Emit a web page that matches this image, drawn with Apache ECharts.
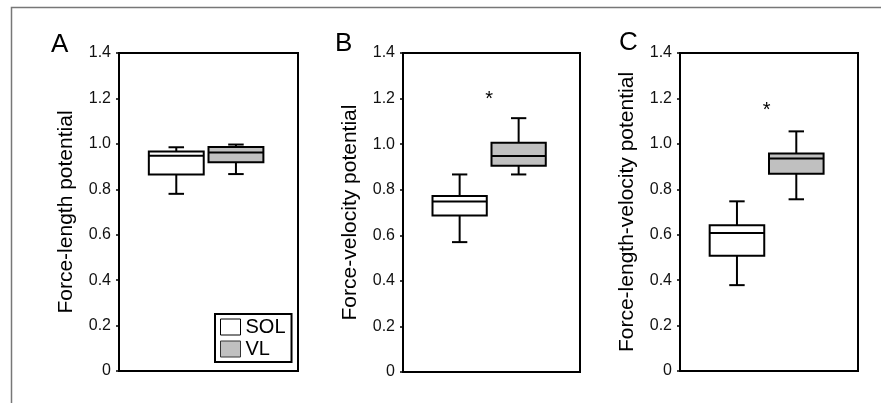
<!DOCTYPE html>
<html>
<head>
<meta charset="utf-8">
<script src="https://cdn.jsdelivr.net/npm/echarts@6/dist/echarts.min.js"></script>
<style>
html,body{margin:0;padding:0;background:#fff;}
#chart{width:881px;height:403px;}
</style>
</head>
<body>
<div id="chart"></div>
<script>
// ---- data ----
const panelLetters = ['A', 'B', 'C'];
const yAxisNames = ['Force-length potential', 'Force-velocity potential', 'Force-length-velocity potential'];
const groupNames = ['SOL', 'VL'];
const groupPositions = [1, 2];
// [min, Q1, median, Q3, max] per panel
const solStats = [
  [0.78, 0.865, 0.948, 0.966, 0.985],
  [0.57, 0.687, 0.748, 0.772, 0.867],
  [0.378, 0.507, 0.607, 0.642, 0.747]
];
const vlStats = [
  [0.867, 0.919, 0.962, 0.986, 0.997],
  [0.867, 0.905, 0.948, 1.006, 1.114],
  [0.756, 0.868, 0.935, 0.957, 1.055]
];
// significance marker height (null = none)
const starY = [null, 1.21, 1.16];
const starX = 1.5;
const yTickValues = [0, 0.2, 0.4, 0.6, 0.8, 1.0, 1.2, 1.4];

// ---- layout / style ----
const FONT = 'Liberation Sans, Arial, sans-serif';
const gridPos = [
  {left: 119, top: 53, width: 179, height: 318},
  {left: 403, top: 53, width: 177, height: 319},
  {left: 680, top: 53, width: 178, height: 318}
];
const titlePos = [{left: 51, top: 32}, {left: 335, top: 31}, {left: 619, top: 30}];
const fills = {SOL: '#ffffff', VL: '#c0c0c0'};
const BOX_HALF = 0.46, CAP_HALF = 0.13;

function boxRender(params, api) {
  const x = api.value(0);
  const mn = api.value(1), q1 = api.value(2), md = api.value(3), q3 = api.value(4), mx = api.value(5);
  const tl = api.coord([x - BOX_HALF, q3]);
  const br = api.coord([x + BOX_HALF, q1]);
  const cMin = api.coord([x, mn]), cMax = api.coord([x, mx]);
  const capL = api.coord([x - CAP_HALF, mn])[0], capR = api.coord([x + CAP_HALF, mn])[0];
  const mdY = api.coord([x, md])[1];
  const stroke = {stroke: '#000', lineWidth: 2, fill: null};
  const name = params.seriesName;
  return {
    type: 'group',
    children: [
      {type: 'line', shape: {x1: cMin[0], y1: cMin[1], x2: cMin[0], y2: br[1]}, style: stroke},
      {type: 'line', shape: {x1: cMax[0], y1: cMax[1], x2: cMax[0], y2: tl[1]}, style: stroke},
      {type: 'line', shape: {x1: capL, y1: cMin[1], x2: capR, y2: cMin[1]}, style: stroke},
      {type: 'line', shape: {x1: capL, y1: cMax[1], x2: capR, y2: cMax[1]}, style: stroke},
      {type: 'rect', shape: {x: tl[0], y: tl[1], width: br[0] - tl[0], height: br[1] - tl[1]},
        style: {fill: fills[name], stroke: '#000', lineWidth: 2}},
      {type: 'line', shape: {x1: tl[0], y1: mdY, x2: br[0], y2: mdY}, style: stroke}
    ]
  };
}

function starRender(params, api) {
  const p = api.coord([api.value(0), api.value(1)]);
  return {
    type: 'text',
    style: {text: '*', x: p[0], y: p[1] + 3, align: 'center', verticalAlign: 'middle',
      font: '20px ' + FONT, fill: '#000'}
  };
}

const grids = [], xAxes = [], yAxes = [], series = [], titles = [];
panelLetters.forEach((letter, i) => {
  grids.push(Object.assign({show: true, borderColor: '#000', borderWidth: 2, backgroundColor: 'transparent'}, gridPos[i]));
  titles.push({text: letter, left: titlePos[i].left, top: titlePos[i].top, padding: 0,
    textStyle: {fontSize: 26, fontWeight: 'normal', color: '#000', fontFamily: FONT}});
  xAxes.push({type: 'value', gridIndex: i, min: 0.04, max: 3.04, show: false, splitLine: {show: false}});
  yAxes.push({
    type: 'value', gridIndex: i, min: yTickValues[0], max: yTickValues[yTickValues.length - 1], interval: 0.2,
    name: yAxisNames[i], nameLocation: 'middle', nameGap: 42,
    nameTextStyle: {fontSize: 21, color: '#000', fontFamily: FONT},
    axisLine: {show: true, lineStyle: {color: '#000', width: 2}},
    axisTick: {show: true, length: 3, lineStyle: {color: '#000', width: 1.5}},
    splitLine: {show: false},
    axisLabel: {fontSize: 16, color: '#111', fontFamily: FONT, margin: 8,
      formatter: v => (Math.abs(v) < 1e-9 ? '0' : v.toFixed(1))}
  });
  [solStats[i], vlStats[i]].forEach((st, g) => {
    series.push({
      type: 'custom', name: groupNames[g], xAxisIndex: i, yAxisIndex: i,
      itemStyle: {color: fills[groupNames[g]], borderColor: '#000'},
      encode: {x: 0, y: [1, 2, 3, 4, 5]},
      renderItem: boxRender,
      data: [[groupPositions[g]].concat(st)],
      silent: true, animation: false
    });
  });
  if (starY[i] !== null) {
    series.push({
      type: 'custom', name: 'sig' + letter, xAxisIndex: i, yAxisIndex: i,
      encode: {x: 0, y: 1}, renderItem: starRender,
      data: [[starX, starY[i]]], silent: true, animation: false
    });
  }
});

const chart = echarts.init(document.getElementById('chart'), null, {renderer: 'canvas'});
chart.setOption({
  animation: false,
  backgroundColor: '#fff',
  title: titles,
  grid: grids,
  xAxis: xAxes,
  yAxis: yAxes,
  legend: {
    data: [
      {name: 'SOL', icon: 'rect', itemStyle: {color: '#ffffff', borderColor: '#000', borderWidth: 1}},
      {name: 'VL', icon: 'rect', itemStyle: {color: '#c0c0c0', borderColor: '#333', borderWidth: 1}}
    ],
    orient: 'vertical', left: 215, top: 314,
    itemWidth: 20, itemHeight: 16, itemGap: 2,
    padding: [3, 6, 3, 5],
    borderColor: '#000', borderWidth: 2, backgroundColor: '#fff',
    selectedMode: false,
    textStyle: {fontSize: 20, color: '#000', fontFamily: FONT}
  },
  graphic: [{
    type: 'rect', silent: true, z: -10,
    shape: {x: 11.5, y: 7.5, width: 900, height: 500},
    style: {fill: 'none', stroke: '#777', lineWidth: 1.5}
  }],
  series: series
});
</script>
</body>
</html>
